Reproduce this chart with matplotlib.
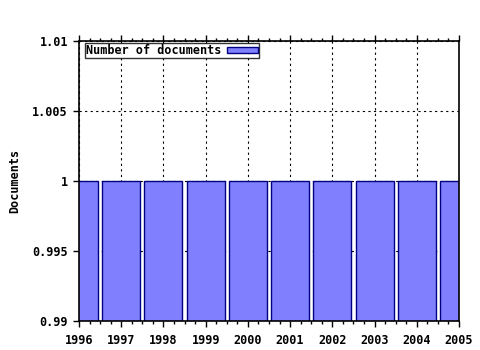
import numpy as np
import matplotlib
matplotlib.use("Agg")
import matplotlib.pyplot as plt
from matplotlib.ticker import MultipleLocator

years = [1996, 1997, 1998, 1999, 2000, 2001, 2002, 2003, 2004, 2005]
documents = [1, 1, 1, 1, 1, 1, 1, 1, 1, 1]
y_ticks = [0.99, 0.995, 1.0, 1.005, 1.01]
y_labels = ["0.99", "0.995", "1", "1.005", "1.01"]

plt.rcParams['font.family'] = 'DejaVu Sans Mono'
plt.rcParams['font.weight'] = 'bold'
plt.rcParams['axes.labelweight'] = 'bold'
plt.rcParams['font.size'] = 8.5

fig = plt.figure(figsize=(4.8, 3.5), dpi=100)
ax = fig.add_axes([79 / 480, 1 - 321 / 350, 380 / 480, 280 / 350])

ax.bar(years, documents, width=0.9, color='#8080ff', edgecolor='#000080',
       linewidth=1.0, label='Number of documents', zorder=2)

ax.set_xlim(1996, 2005)
ax.set_ylim(0.99, 1.01)
ax.set_xticks(years)
ax.set_xticklabels([str(y) for y in years])
ax.xaxis.set_minor_locator(MultipleLocator(0.25))
ax.set_yticks(y_ticks)
ax.set_yticklabels(y_labels)

ax.grid(True, which='major', color='black', linestyle=(0, (2, 3)), linewidth=0.8, zorder=0)
ax.set_axisbelow(True)

ax.tick_params(axis='x', which='both', top=True, direction='out')
ax.tick_params(axis='x', which='major', length=4, width=1, pad=5)
ax.tick_params(axis='x', which='minor', length=2, width=1)
ax.tick_params(axis='y', which='major', length=4, width=1, pad=4)
for s in ax.spines.values():
    s.set_linewidth(1.2)

ax.set_ylabel('Documents', labelpad=8)

leg = ax.legend(loc='upper left', bbox_to_anchor=(6 / 380, 1 - 2 / 280), markerfirst=False,
                frameon=True, fancybox=False, borderpad=0.1, handlelength=2.6,
                handleheight=0.45, handletextpad=0.5, borderaxespad=0.0)
leg.get_frame().set_edgecolor('black')
leg.get_frame().set_linewidth(1.0)

fig.savefig('out.png', dpi=100)
